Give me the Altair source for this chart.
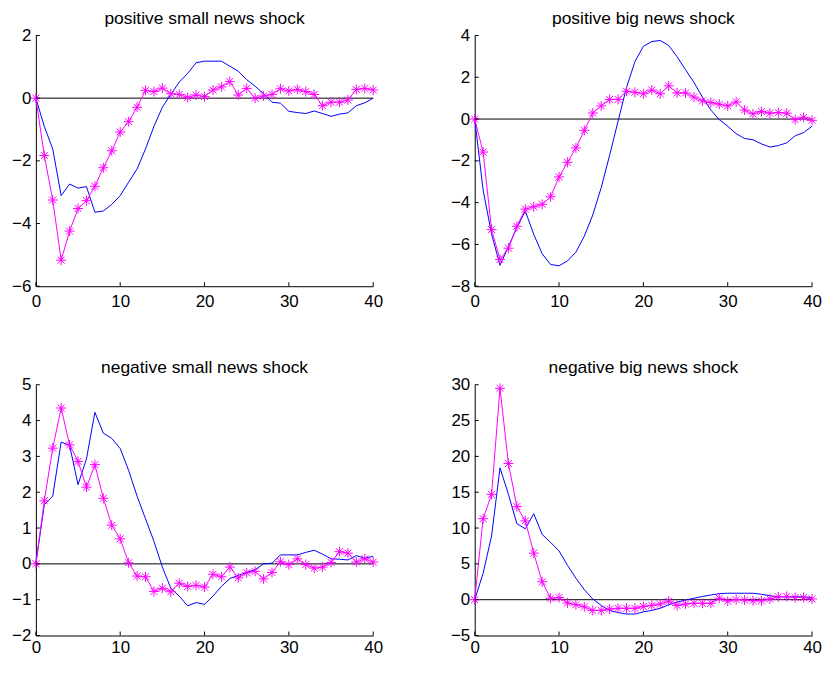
import altair as alt
import pandas as pd

x_vals = list(range(41))
titles = ["positive small news shock", "positive big news shock",
          "negative small news shock", "negative big news shock"]

blue_p1 = [0, -0.9, -1.62, -3.11, -2.74, -2.87, -2.82, -3.64, -3.60, -3.39,
           -3.11, -2.68, -2.26, -1.62, -0.90, -0.29, 0.12, 0.51, 0.79, 1.13,
           1.18, 1.18, 1.18, 1.02, 0.86, 0.59, 0.38, 0.14, -0.13, -0.16,
           -0.42, -0.46, -0.49, -0.41, -0.49, -0.58, -0.51, -0.47, -0.24, -0.15,
           0.0]
mag_p1 = [0, -1.83, -3.25, -5.17, -4.24, -3.52, -3.27, -2.81, -2.22, -1.68,
          -1.08, -0.75, -0.29, 0.25, 0.21, 0.32, 0.14, 0.12, 0.02, 0.10,
          0.05, 0.26, 0.36, 0.53, 0.10, 0.31, 0.0, 0.07, 0.12, 0.30,
          0.23, 0.28, 0.21, 0.12, -0.24, -0.13, -0.13, -0.06, 0.28, 0.31,
          0.26]
blue_p2 = [0, -3.4, -5.5, -7.0, -6.1, -5.2, -4.4, -5.52, -6.45, -6.96,
           -7.02, -6.79, -6.37, -5.6, -4.59, -3.28, -1.73, -0.1, 1.51, 2.75,
           3.48, 3.71, 3.76, 3.52, 2.98, 2.36, 1.75, 1.05, 0.43, -0.03,
           -0.34, -0.70, -0.93, -0.99, -1.19, -1.34, -1.27, -1.14, -0.80, -0.65,
           -0.34]
mag_p2 = [0, -1.58, -5.29, -6.72, -6.18, -5.13, -4.31, -4.20, -4.08, -3.72,
          -2.77, -2.07, -1.38, -0.54, 0.29, 0.63, 0.94, 0.94, 1.33, 1.28,
          1.21, 1.39, 1.21, 1.59, 1.25, 1.25, 1.05, 0.87, 0.79, 0.71,
          0.63, 0.82, 0.43, 0.25, 0.36, 0.28, 0.31, 0.28, -0.03, 0.08,
          -0.06]
blue_p3 = [0, 1.65, 1.89, 3.40, 3.31, 2.21, 2.93, 4.23, 3.65, 3.50,
           3.22, 2.61, 1.89, 1.26, 0.63, -0.09, -0.68, -0.90, -1.17, -1.08,
           -1.13, -0.90, -0.63, -0.41, -0.32, -0.24, -0.16, 0.0, 0.02, 0.25,
           0.25, 0.25, 0.32, 0.38, 0.27, 0.14, 0.13, 0.11, 0.23, 0.16,
           0.21]
mag_p3 = [0, 1.76, 3.23, 4.35, 3.32, 2.86, 2.14, 2.77, 1.83, 1.08,
          0.70, 0.03, -0.34, -0.36, -0.77, -0.68, -0.78, -0.54, -0.63, -0.60,
          -0.65, -0.29, -0.36, -0.09, -0.39, -0.25, -0.21, -0.42, -0.24, 0.06,
          -0.02, 0.14, -0.02, -0.12, -0.09, 0.04, 0.34, 0.30, 0.05, 0.14,
          0.05]
blue_p4 = [0, 3.7, 8.9, 18.4, 14.7, 10.6, 9.9, 12.0, 9.1, 8.0,
           6.8, 4.8, 3.0, 1.4, 0.1, -0.8, -1.5, -1.8, -2.0, -2.0,
           -1.7, -1.5, -1.2, -0.7, -0.35, -0.05, 0.2, 0.45, 0.65, 0.85,
           0.9, 0.9, 0.9, 0.9, 0.75, 0.55, 0.4, 0.4, 0.4, 0.4,
           0.3]
mag_p4 = [0, 11.3, 14.7, 29.5, 19.0, 13.0, 11.0, 6.5, 2.5, 0.2,
          0.3, -0.45, -0.7, -1.0, -1.5, -1.5, -1.3, -1.2, -1.2, -1.2,
          -0.95, -0.8, -0.6, -0.2, -0.8, -0.6, -0.5, -0.5, -0.5, 0.2,
          -0.2, 0.0, -0.05, -0.15, -0.15, 0.1, 0.4, 0.45, 0.3, 0.3,
          0.1]

y_domains = [[-6, 2], [-8, 4], [-2, 5], [-5, 30]]
y_ticks = [[-6, -4, -2, 0, 2], [-8, -6, -4, -2, 0, 2, 4],
           [-2, -1, 0, 1, 2, 3, 4, 5], [-5, 0, 5, 10, 15, 20, 25, 30]]
x_ticks = [0, 10, 20, 30, 40]

W, H = 339, 252
FONT = "Liberation Sans"
ASTERISK = "M0,-1L0,1M-1,0L1,0M-0.7,-0.7L0.7,0.7M-0.7,0.7L0.7,-0.7"
TICK = 4


def panel(title, blue, mag, ydom, yt, xpad):
    df = pd.DataFrame({"x": x_vals, "blue": blue, "mag": mag})
    xs = alt.Scale(domain=[0, 40], nice=False, zero=False)
    ys = alt.Scale(domain=ydom, nice=False, zero=False)
    xaxis = alt.Axis(values=x_ticks, ticks=False, grid=False, domainColor="black",
                     domainWidth=1, labelFont=FONT, labelFontSize=17, labelColor="black",
                     labelPadding=xpad, minExtent=xpad + 17, maxExtent=xpad + 17,
                     title=None, labelFlush=False)
    yaxis = alt.Axis(values=yt, ticks=False, grid=False, domainColor="black",
                     domainWidth=1, labelFont=FONT, labelFontSize=17, labelColor="black",
                     labelPadding=5, minExtent=28, maxExtent=28, title=None,
                     labelFlush=False)
    base = alt.Chart(df)
    zero = alt.Chart(pd.DataFrame({"z": [0]})).mark_rule(color="black", strokeWidth=1).encode(
        y=alt.Y("z:Q", scale=ys, axis=yaxis))
    bl = base.mark_line(color="#0000ff", strokeWidth=1).encode(
        x=alt.X("x:Q", scale=xs, axis=xaxis),
        y=alt.Y("blue:Q", scale=ys, axis=yaxis))
    ml = base.mark_line(color="#ff00ff", strokeWidth=1).encode(
        x=alt.X("x:Q", scale=xs, axis=xaxis),
        y=alt.Y("mag:Q", scale=ys, axis=yaxis))
    mp = base.mark_point(shape=ASTERISK, size=100, filled=False, color="#ff00ff",
                         strokeWidth=1, opacity=1).encode(
        x=alt.X("x:Q", scale=xs, axis=xaxis),
        y=alt.Y("mag:Q", scale=ys, axis=yaxis))
    ytk = alt.Chart(pd.DataFrame({"t": yt})).mark_rule(color="black", strokeWidth=1).encode(
        y=alt.Y("t:Q", scale=ys, axis=yaxis), x=alt.value(0), x2=alt.value(TICK))
    xtk = alt.Chart(pd.DataFrame({"t": x_ticks})).mark_rule(color="black", strokeWidth=1).encode(
        x=alt.X("t:Q", scale=xs, axis=xaxis), y=alt.value(H - TICK), y2=alt.value(H))
    return alt.layer(zero, bl, ml, mp, ytk, xtk).properties(
        width=W, height=H,
        title=alt.TitleParams(title, font=FONT, fontSize=17.5, fontWeight="normal",
                              color="black", frame="group", anchor="middle", offset=-1))


p1 = panel(titles[0], blue_p1, mag_p1, y_domains[0], y_ticks[0], 7)
p2 = panel(titles[1], blue_p2, mag_p2, y_domains[1], y_ticks[1], 7)
p3 = panel(titles[2], blue_p3, mag_p3, y_domains[2], y_ticks[2], 4)
p4 = panel(titles[3], blue_p4, mag_p4, y_domains[3], y_ticks[3], 4)

chart = alt.vconcat(
    alt.hconcat(p1, p2, spacing=64),
    alt.hconcat(p3, p4, spacing=64),
    spacing=49,
).properties(padding=0, background="white").configure_view(stroke=None)

chart.save("out.html", embed_options={"renderer": "svg", "actions": False})
